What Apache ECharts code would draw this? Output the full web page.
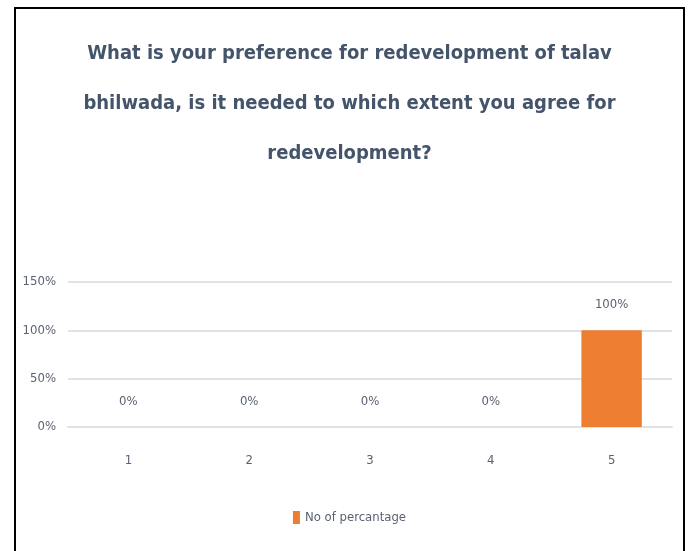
<!DOCTYPE html>
<html>
<head>
<meta charset="utf-8">
<title>Redevelopment preference</title>
<script src="https://cdn.jsdelivr.net/npm/echarts@6/dist/echarts.min.js"></script>
<style>
  html, body {
    margin: 0;
    padding: 0;
    background: #fff;
    overflow: hidden;
  }
  /* black frame round the chart, bottom edge falls outside the window */
  .frame {
    position: absolute;
    left: 14px;
    top: 7px;
    width: 667px;
    height: 560px;
    border: 2px solid #000;
  }
  #chart {
    width: 100%;
    height: 100%;
  }
</style>
</head>
<body>
<div class="frame">
  <div id="chart"></div>
</div>
<script>
// data
const categories = ['1', '2', '3', '4', '5'];
const shares = [0, 0, 0, 0, 1];
const seriesName = 'No of percantage';
const titleLines = [
  'What is your preference for redevelopment of talav',
  'bhilwada, is it needed to which extent you agree for',
  'redevelopment?'
];

const FONT = "'Liberation Sans Narrow', 'DejaVu Sans Condensed', 'Noto Sans', sans-serif";
const LABEL_COLOR = '#5A6272';
const GRID_COLOR = '#DFE2E8';

const pct = v => Math.round(v * 100) + '%';

const chart = echarts.init(document.getElementById('chart'));

const option = {
  backgroundColor: '#fff',
  animation: false,
  textStyle: { fontFamily: FONT },
  title: {
    text: titleLines.join('\n'),
    left: 'center',
    top: 20,
    padding: 0,
    textStyle: {
      fontFamily: FONT,
      fontSize: 20,
      fontWeight: 'bold',
      color: '#44546A',
      lineHeight: 50
    }
  },
  legend: {
    data: [seriesName],
    left: 'center',
    top: 497,
    icon: 'rect',
    itemWidth: 7,
    itemHeight: 13,
    textStyle: { fontFamily: FONT, fontSize: 13, color: LABEL_COLOR }
  },
  grid: {
    left: 52,
    right: 11,
    top: 273,
    bottom: 142,
    containLabel: false
  },
  xAxis: {
    type: 'category',
    data: categories,
    axisLine: { show: true, lineStyle: { color: GRID_COLOR, width: 2 } },
    axisTick: { show: false },
    axisLabel: { margin: 27, fontFamily: FONT, fontSize: 13, color: LABEL_COLOR }
  },
  yAxis: {
    type: 'value',
    min: 0,
    max: 1.5,
    interval: 0.5,
    axisLine: { show: false },
    axisTick: { show: false },
    axisLabel: {
      margin: 12,
      fontFamily: FONT,
      fontSize: 13,
      color: LABEL_COLOR,
      formatter: pct
    },
    splitLine: { lineStyle: { color: GRID_COLOR, width: 2 } }
  },
  series: [
    {
      name: seriesName,
      type: 'bar',
      data: shares,
      barWidth: '50%',
      itemStyle: { color: '#ED7D31' },
      label: {
        show: true,
        position: 'top',
        distance: 19,
        fontFamily: FONT,
        fontSize: 13,
        color: LABEL_COLOR,
        formatter: p => pct(p.value)
      }
    }
  ]
};

chart.setOption(option);
window.addEventListener('resize', () => chart.resize());
</script>
</body>
</html>
